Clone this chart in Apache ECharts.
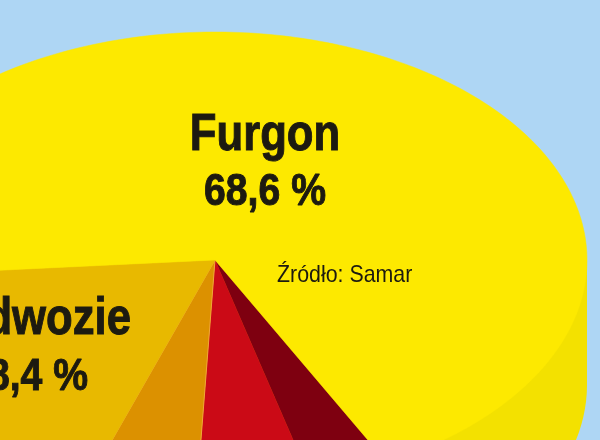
<!DOCTYPE html>
<html>
<head>
<meta charset="utf-8">
<style>html,body{margin:0;padding:0;background:#aed6f4}#c{width:600px;height:440px}</style>
<script src="https://cdn.jsdelivr.net/npm/echarts@6/dist/echarts.min.js"></script>
</head>
<body>
<div id="c"></div>
<script>
var categories = ['Segment D', 'Segment C', 'Segment B', 'Podwozie', 'Furgon'];
var shares = [3.5, 4.9, 4.6, 18.4, 68.6];
var sliceColors = ['#7e0010', '#cb0a16', '#dc9100', '#e8b900', '#fde900'];
var valueLabels = ['18,4 %', '68,6 %'];
var sourceNote = 'Źródło: Samar';

var FONT = '"Liberation Sans",sans-serif';
var START = 62.5, CX = 215, CY = 260, RX = 372, RY = 228, DEPTH = 125;

var items = [];
var acc = START;
for (var i = 0; i < shares.length; i++) {
  var span = shares[i] * 3.6;
  items.push({ name: categories[i], value: [acc, acc + span, shares[i]], itemStyle: { color: sliceColors[i] } });
  acc += span;
}

function ell(api, deg, cy) {
  var a = deg * Math.PI / 180;
  return api.coord([CX + RX * Math.cos(a), cy + RY * Math.sin(a)]);
}

function label(text, x, y, size, weight, align, sx) {
  return {
    type: 'text', z: 20, x: x, y: y, scaleX: sx,
    style: {
      text: text, font: weight + ' ' + size + 'px ' + FONT, fill: '#1c1a10',
      align: align, verticalAlign: 'top',
      stroke: weight === 'bold' ? '#1c1a10' : 'transparent', lineWidth: weight === 'bold' ? 1 : 0
    }
  };
}

var chart = echarts.init(document.getElementById('c'), null, { renderer: 'canvas' });
chart.setOption({
  animation: false,
  backgroundColor: '#aed6f4',
  grid: { left: 0, right: 0, top: 0, bottom: 0 },
  xAxis: { type: 'value', min: 0, max: 600, show: false },
  yAxis: { type: 'value', min: 0, max: 440, inverse: true, show: false },
  series: [
    {
      type: 'custom',
      coordinateSystem: 'cartesian2d',
      clip: false,
      silent: true,
      encode: { x: 0, y: 1 },
      data: [[0, 180]],
      renderItem: function (p, api) {
        var pts = [ell(api, 0, CY)], d;
        for (d = 0; d <= 180; d += 2) pts.push(ell(api, d, CY + DEPTH));
        pts.push(ell(api, 180, CY));
        return { type: 'polygon', shape: { points: pts }, style: { fill: '#f3e100' } };
      }
    },
    {
      type: 'custom',
      coordinateSystem: 'cartesian2d',
      clip: false,
      silent: true,
      encode: { x: 0, y: 1 },
      data: items,
      renderItem: function (p, api) {
        var s = api.value(0), e = api.value(1);
        var pts = [api.coord([CX, CY])];
        for (var d = s; d < e; d += 1) pts.push(ell(api, d, CY));
        pts.push(ell(api, e, CY));
        var fill = api.visual('color');
        var isOrange = p.dataIndex === 2;
        return {
          type: 'polygon',
          shape: { points: pts },
          style: { fill: fill, stroke: isOrange ? '#f0a63a' : fill, lineWidth: isOrange ? 1 : 0.5 }
        };
      }
    }
  ],
  graphic: [
    label(categories[4], 265, 110, 52, 'bold', 'center', 0.84),
    label(valueLabels[1], 265, 170, 45, 'bold', 'center', 0.87),
    label(categories[3], 131, 294, 52, 'bold', 'right', 0.84),
    label(valueLabels[0], 88, 355, 45, 'bold', 'right', 0.87),
    label(sourceNote, 277, 263, 24, 'normal', 'left', 0.89)
  ]
});
</script>
</body>
</html>
